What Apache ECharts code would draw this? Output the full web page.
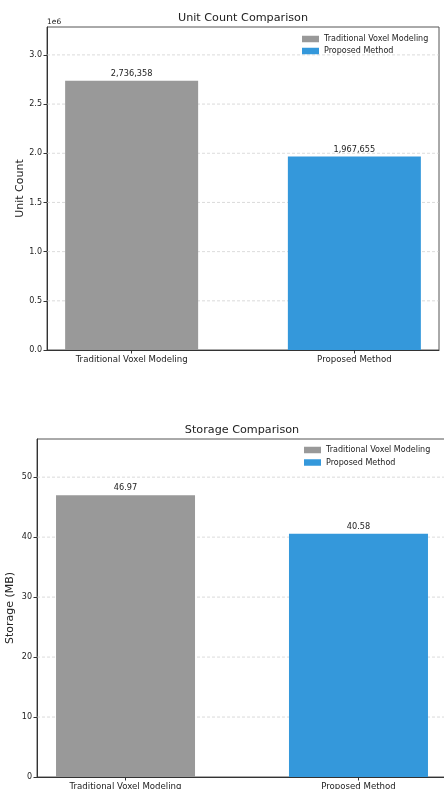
<!DOCTYPE html>
<html>
<head>
<meta charset="utf-8">
<script src="https://cdn.jsdelivr.net/npm/echarts@6/dist/echarts.min.js"></script>
<style>
html,body{margin:0;padding:0;background:#fff;}
#c{width:444px;height:789px;}
</style>
</head>
<body>
<div id="c"></div>
<script>
const categories = ['Traditional Voxel Modeling', 'Proposed Method'];
const unitCounts = [2736358, 1967655];
const storageMB = [46.97, 40.58];
const colors = ['#999999', '#3498db'];
const unitTicks = [0, 500000, 1000000, 1500000, 2000000, 2500000, 3000000];
const storageTicks = [0, 10, 20, 30, 40, 50];

const FONT = 'DejaVu Sans';
const chart = echarts.init(document.getElementById('c'), null, {renderer: 'canvas'});

const unitMax = Math.max(...unitCounts) * 1.2;
const storageMax = Math.max(...storageMB) * 1.2;

function xAxis(gi) {
  return {
    type: 'value', gridIndex: gi, min: -0.38, max: 1.38,
    axisLine: {show: true, onZero: false, lineStyle: {color: '#333', width: 1}},
    axisTick: {show: true, customValues: [0, 1], length: 3.5, lineStyle: {color: '#333'}},
    axisLabel: {customValues: [0, 1], formatter: v => categories[Math.round(v)], color: '#222',
      fontFamily: FONT, fontSize: 8.6, margin: 5},
    splitLine: {show: false}
  };
}
function yAxis(gi, max, ticks, fmt) {
  return {
    type: 'value', gridIndex: gi, min: 0, max: max,
    axisLine: {show: true, onZero: false, lineStyle: {color: '#333', width: 1}},
    axisTick: {show: true, customValues: ticks, length: 3.5, lineStyle: {color: '#333'}},
    axisLabel: {customValues: ticks, formatter: fmt, color: '#222', fontFamily: FONT, fontSize: 8, margin: 5},
    splitLine: {show: false}
  };
}

function gridLines(gi, ticks) {
  return ticks.filter(t => t > 0).map(t => ({
    type: 'line', xAxisIndex: gi, yAxisIndex: gi, silent: true, symbol: 'none', z: 0,
    data: [[-0.38, t], [1.38, t]],
    lineStyle: {color: '#cccccc', width: 0.7, type: [3, 2]},
    tooltip: {show: false}
  }));
}

function bars(gi, values, width, fmt) {
  return values.map((v, i) => ({
    type: 'bar', name: categories[i], xAxisIndex: gi, yAxisIndex: gi,
    barWidth: width, barGap: '-100%', z: 2,
    itemStyle: {color: colors[i]},
    data: [[i, v]],
    label: {show: true, position: 'top', distance: 3, formatter: p => fmt(p.value[1]),
      color: '#222', fontFamily: FONT, fontSize: 8.2}
  }));
}

const legendText = {fontFamily: FONT, fontSize: 8, color: '#222'};

const option = {
  animation: false,
  backgroundColor: '#fff',
  title: [
    {text: 'Unit Count Comparison', left: 243, top: 13, textAlign: 'center', padding: 0,
      textStyle: {fontFamily: FONT, fontSize: 11.2, fontWeight: 'normal', color: '#222'}},
    {text: 'Storage Comparison', left: 242, top: 425, textAlign: 'center', padding: 0,
      textStyle: {fontFamily: FONT, fontSize: 11.2, fontWeight: 'normal', color: '#222'}},
    {text: '1e6', left: 47, top: 18, padding: 0, textStyle: {fontFamily: FONT, fontSize: 7.5, fontWeight: 'normal', color: '#222'}}
  ],
  legend: [
    {data: categories, orient: 'vertical', left: 302, top: 35, padding: 0, itemWidth: 17, itemHeight: 6.5, itemGap: 4,
      icon: 'rect', textStyle: legendText, selectedMode: false},
    {data: categories, orient: 'vertical', left: 304, top: 446, padding: 0, itemWidth: 17, itemHeight: 6.5, itemGap: 4.5,
      icon: 'rect', textStyle: legendText, selectedMode: false}
  ],
  grid: [
    {left: 47, top: 27, right: 5, height: 323, outerBoundsMode: 'none', containLabel: false,
      show: true, borderColor: '#555', borderWidth: 1, backgroundColor: 'transparent'},
    {left: 37, top: 439, right: -3, height: 338, outerBoundsMode: 'none', containLabel: false,
      show: true, borderColor: '#555', borderWidth: 1, backgroundColor: 'transparent'}
  ],
  xAxis: [xAxis(0), xAxis(1)],
  yAxis: [
    Object.assign(yAxis(0, unitMax, unitTicks, v => (v / 1e6).toFixed(1)), {
      name: 'Unit Count', nameLocation: 'middle', nameGap: 21, nameRotate: 90, nameMoveOverlap: false,
      nameTextStyle: {fontFamily: FONT, fontSize: 11, color: '#222'}}),
    Object.assign(yAxis(1, storageMax, storageTicks, v => String(v)), {
      name: 'Storage (MB)', nameLocation: 'middle', nameGap: 21, nameRotate: 90, nameMoveOverlap: false,
      nameTextStyle: {fontFamily: FONT, fontSize: 11, color: '#222'}})
  ],
  series: [
    ...gridLines(0, unitTicks),
    ...bars(0, unitCounts, 133, v => v.toLocaleString('en-US')),
    ...gridLines(1, storageTicks),
    ...bars(1, storageMB, 139, v => v.toFixed(2))
  ]
};
chart.setOption(option);
</script>
</body>
</html>
